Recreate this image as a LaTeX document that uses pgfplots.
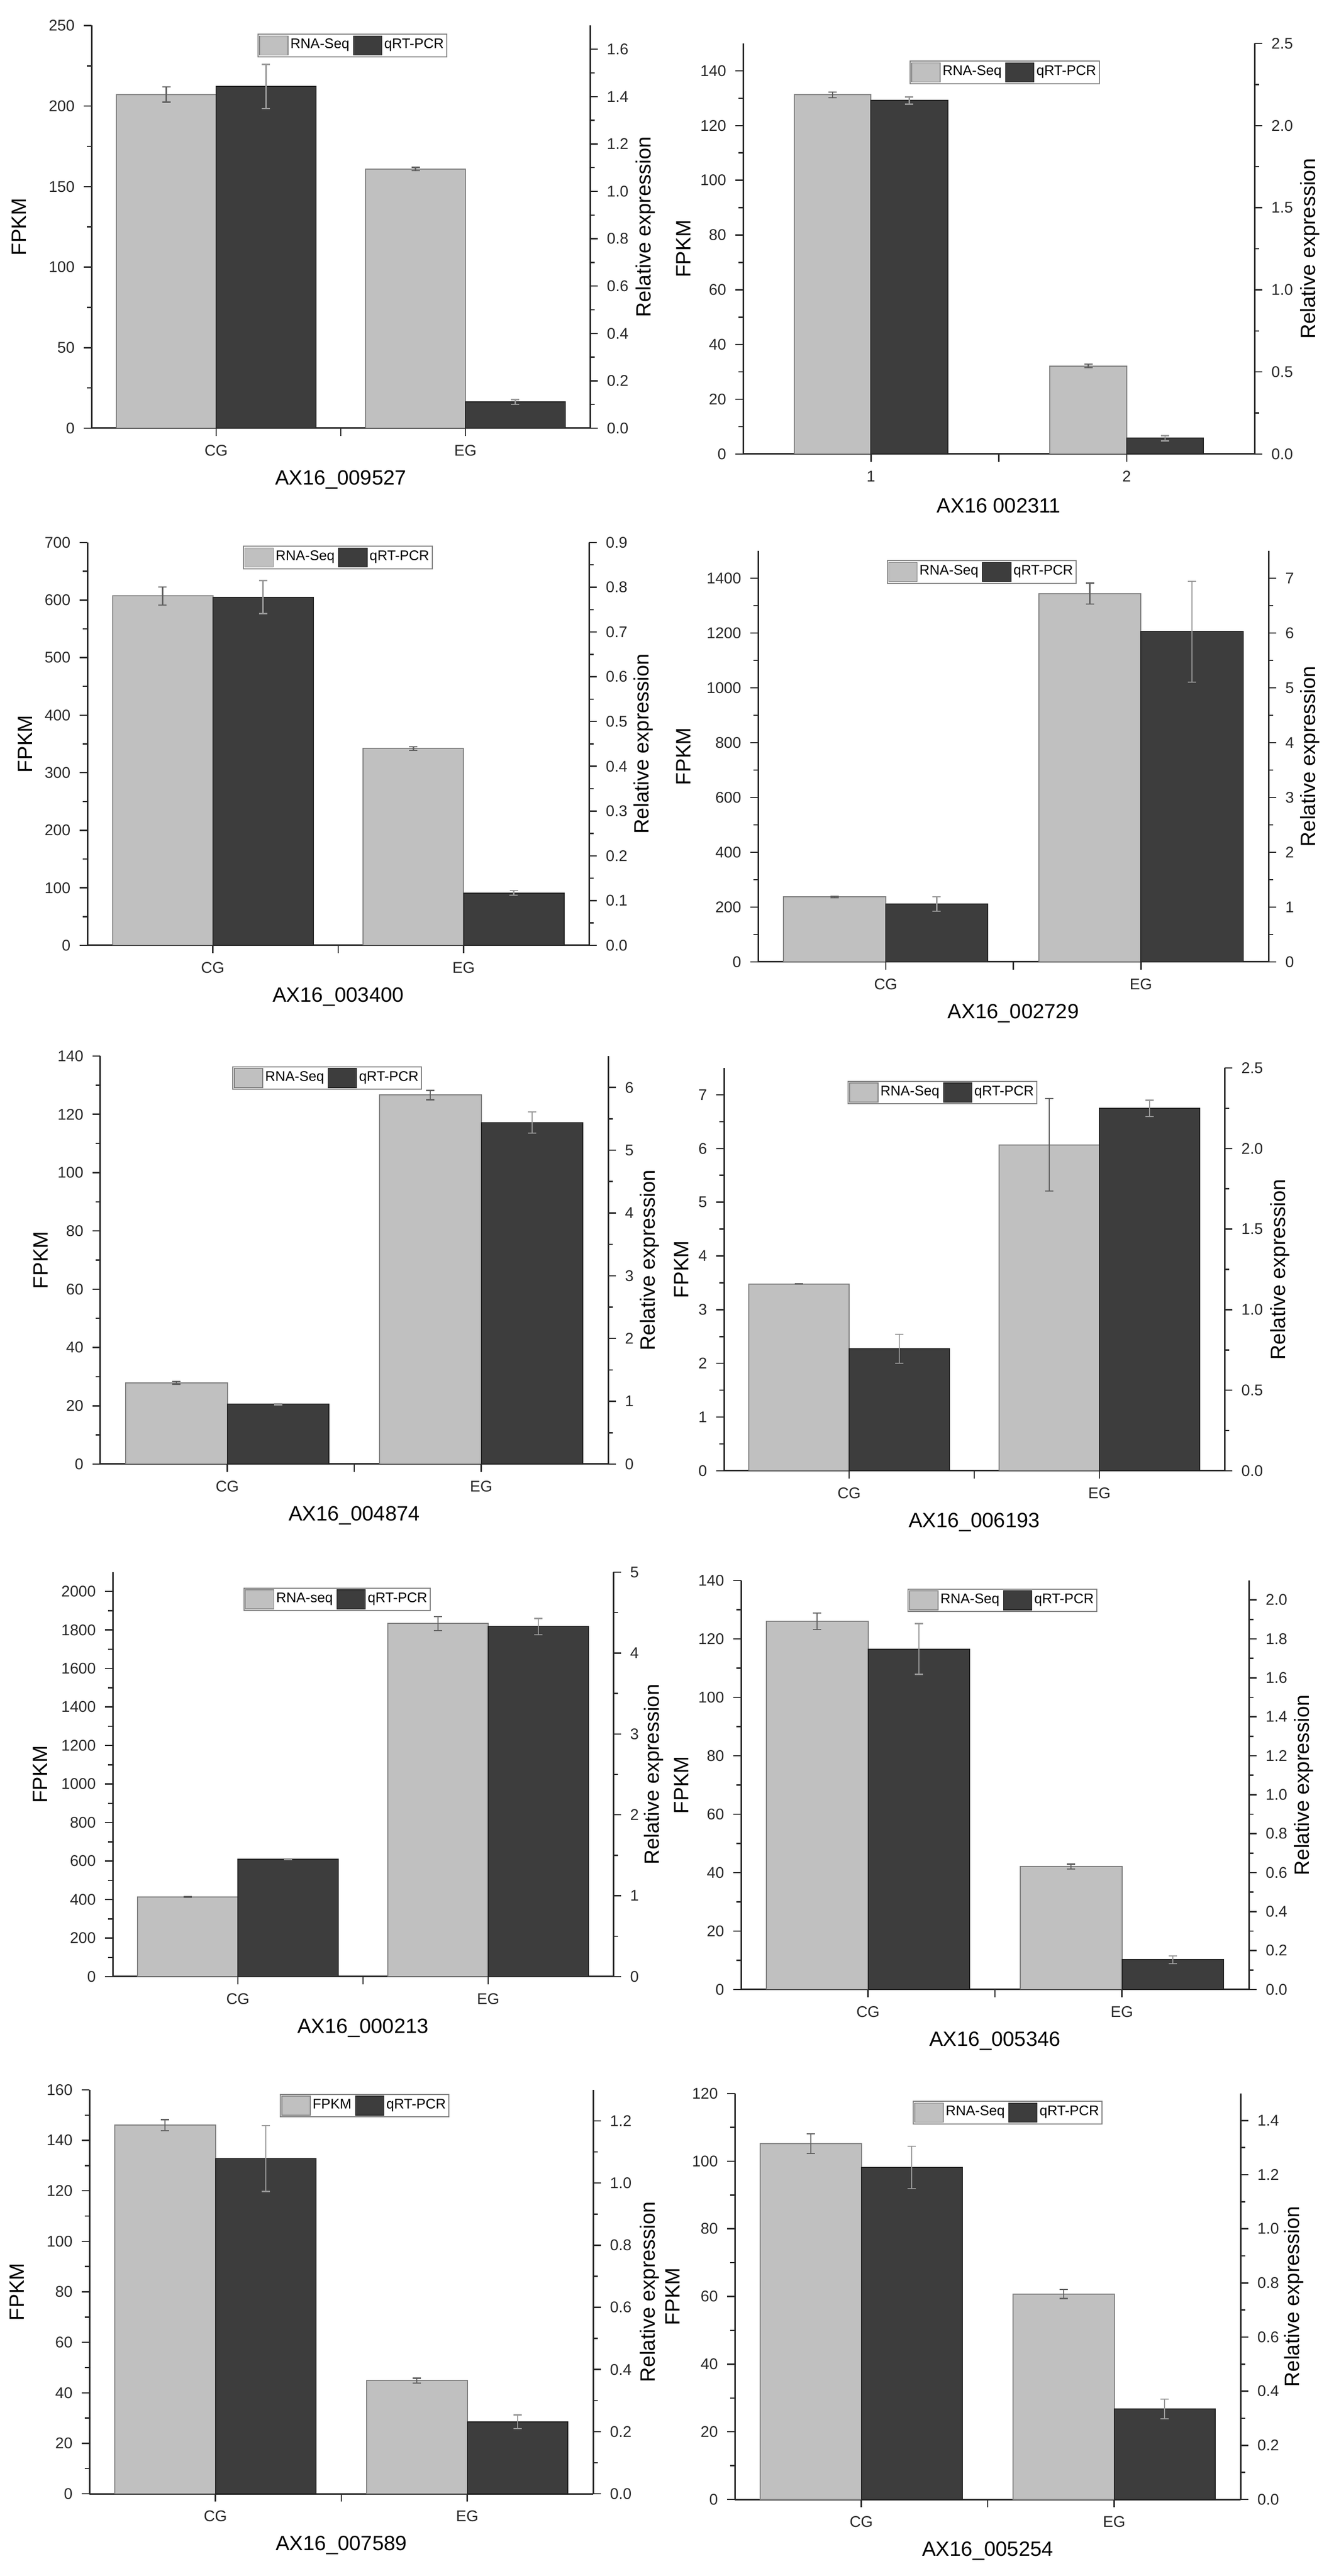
\documentclass[border=0pt]{standalone}
\usepackage{fontspec}
\setmainfont{Liberation Sans}
\usepackage{pgfplots}
\pgfplotsset{compat=1.18}
\definecolor{lgray}{RGB}{192,192,192}
\definecolor{lgedge}{RGB}{125,125,125}
\definecolor{dgray}{RGB}{61,61,61}
\definecolor{dgedge}{RGB}{35,35,35}
\definecolor{axcol}{RGB}{40,40,40}
\pgfplotsset{
  base/.style={
    scale only axis, xmin=0.5, xmax=2.5, ymin=0,
    axis line style={line width=0.6pt, axcol},
    every tick/.style={axcol, line width=0.5pt},
    major tick length=3pt, minor tick length=1.8pt,
    tick align=outside,
    tick label style={font=\fontsize{6}{7}\selectfont, text=axcol},
    label style={font=\fontsize{8}{9.6}\selectfont},
    /pgf/number format/assume math mode=true,
    /pgf/number format/1000 sep={},
    scaled y ticks=false,
    minor y tick num=1,
  },
  pos/.style n args={4}{at={(#1pt,#2pt)}, width=#3pt, height=#4pt},
  leftax/.style={base,
    axis y line*=left, axis x line*=bottom,
    xtick={1,2}, xticklabels={CG,EG}, extra x ticks={1.5}, extra x tick labels={},
    ylabel=FPKM,
  },
  rightax/.style={base,
    axis y line*=right, axis x line=none, xtick=\empty,
    ylabel=Relative expression,
    legend columns=2,
    legend cell align=left,
    legend style={anchor=north west, draw=gray, line width=0.4pt, fill=white,
      font=\fontsize{5.4}{6}\selectfont, inner xsep=0.4pt, inner ysep=0.5pt,
      nodes={inner sep=0.8pt},
      /tikz/every even column/.append style={column sep=0.6pt}},
  },
  flab/.style={ylabel style={at={([xshift=-#1pt]axis description cs:0,0.5)}, anchor=center}},
  rlab/.style={ylabel style={at={([xshift=#1pt]axis description cs:1,0.5)}, anchor=center}},
  xlab/.style={xlabel={#1}, xlabel style={at={([yshift=-20pt]axis description cs:0.5,0)}, anchor=center}},
  dec/.style={yticklabel style={/pgf/number format/fixed, /pgf/number format/fixed zerofill, /pgf/number format/precision=1}},
  lleg/.style={legend image code/.code={\draw[fill=lgray, draw=gray, line width=0.3pt] (0pt,-3.7pt) rectangle (11pt,3.7pt);}},
  dleg/.style={legend image code/.code={\draw[fill=dgray, draw=dgedge, line width=0.3pt] (0pt,-3.7pt) rectangle (11pt,3.7pt);}},
  lbar/.style={ybar, bar width=#1, bar shift=0, fill=lgray, draw=lgedge, line width=0.4pt, lleg,
    error bars/y dir=both, error bars/y explicit,
    error bars/error bar style={line width=0.45pt, gray!75!black},
    error bars/error mark options={rotate=90, line width=0.45pt, gray!75!black, mark size=1.6pt}},
  dbar/.style={ybar, bar width=#1, bar shift=0, fill=dgray, draw=dgedge, line width=0.4pt, dleg,
    error bars/y dir=both, error bars/y explicit,
    error bars/error bar style={line width=0.45pt, gray!80},
    error bars/error mark options={rotate=90, line width=0.45pt, gray!80, mark size=1.6pt}},
}
\begin{document}
\begin{tikzpicture}
\path[use as bounding box] (0,0) rectangle (514pt,996.2pt);

% ---------- Panel 1: AX16_009527  (bars centred at CG=1, EG=2; RNA-Seq left, qRT-PCR right)
\begin{axis}[leftax, pos={35.4}{830.6}{192.8}{155.7}, ymax=250, ytick={0,50,100,150,200,250}, flab=28, xlab={AX16\_009527}]
\addplot[lbar=0.4] coordinates {(0.8,207.2) +- (0,4.7) (1.8,161.0) +- (0,1.0)};
\end{axis}
\begin{axis}[rightax, pos={35.4}{830.6}{192.8}{155.7}, ymax=1.7, ytick={0,0.2,0.4,0.6,0.8,1.0,1.2,1.4,1.6}, dec, rlab=21.4, legend style={at={(0.333,0.980)}}]
\addlegendimage{lleg}\addlegendentry{RNA-Seq}
\addplot[dbar=0.4] coordinates {(1.2,1.443) +- (0,0.093) (2.2,0.111) +- (0,0.010)};
\addlegendentry{qRT-PCR}
\end{axis}

% ---------- Panel 2: AX16 002311
\begin{axis}[leftax, pos={287.4}{820.6}{197.8}{158.8}, ymax=150, ytick={0,20,40,60,80,100,120,140}, xticklabels={1,2}, flab=23, xlab={AX16 002311}]
\addplot[lbar=0.3] coordinates {(0.85,131.2) +- (0,1.0) (1.85,32.2) +- (0,0.7)};
\end{axis}
\begin{axis}[rightax, pos={287.4}{820.6}{197.8}{158.8}, ymax=2.5, ytick={0,0.5,1.0,1.5,2.0,2.5}, dec, rlab=21.4, legend style={at={(0.326,0.958)}}]
\addlegendimage{lleg}\addlegendentry{RNA-Seq}
\addplot[dbar=0.3] coordinates {(1.15,2.152) +- (0,0.022) (2.15,0.096) +- (0,0.016)};
\addlegendentry{qRT-PCR}
\end{axis}

% ---------- Panel 3: AX16_003400
\begin{axis}[leftax, pos={33.8}{630.6}{194}{155.8}, ymax=700, ytick={0,100,200,300,400,500,600,700}, flab=24, xlab={AX16\_003400}]
\addplot[lbar=0.4] coordinates {(0.8,607) +- (0,16) (1.8,342) +- (0,3)};
\end{axis}
\begin{axis}[rightax, pos={33.8}{630.6}{194}{155.8}, ymax=0.9, ytick={0,0.1,0.2,0.3,0.4,0.5,0.6,0.7,0.8,0.9}, dec, rlab=21, legend style={at={(0.310,0.992)}}]
\addlegendimage{lleg}\addlegendentry{RNA-Seq}
\addplot[dbar=0.4] coordinates {(1.2,0.778) +- (0,0.037) (2.2,0.117) +- (0,0.005)};
\addlegendentry{qRT-PCR}
\end{axis}

% ---------- Panel 4: AX16_002729
\begin{axis}[leftax, pos={293.2}{624.2}{197.4}{159}, ymax=1500, ytick={0,200,400,600,800,1000,1200,1400}, flab=28.8, xlab={AX16\_002729}]
\addplot[lbar=0.4] coordinates {(0.8,237) +- (0,3) (1.8,1344) +- (0,38)};
\end{axis}
\begin{axis}[rightax, pos={293.2}{624.2}{197.4}{159}, ymax=7.5, ytick={0,1,2,3,4,5,6,7}, rlab=16, legend style={at={(0.252,0.977)}}]
\addlegendimage{lleg}\addlegendentry{RNA-Seq}
\addplot[dbar=0.4] coordinates {(1.2,1.057) +- (0,0.13) (2.2,6.026) +- (0,0.92)};
\addlegendentry{qRT-PCR}
\end{axis}

% ---------- Panel 5: AX16_004874
\begin{axis}[leftax, pos={38.8}{430}{196.4}{157.8}, ymax=140, ytick={0,20,40,60,80,100,120,140}, flab=23, xlab={AX16\_004874}]
\addplot[lbar=0.4] coordinates {(0.8,27.9) +- (0,0.5) (1.8,126.6) +- (0,1.6)};
\end{axis}
\begin{axis}[rightax, pos={38.8}{430}{196.4}{157.8}, ymax=6.5, ytick={0,1,2,3,4,5,6}, rlab=16, legend style={at={(0.260,0.975)}}]
\addlegendimage{lleg}\addlegendentry{RNA-Seq}
\addplot[dbar=0.4] coordinates {(1.2,0.954) +- (0,0.01) (2.2,5.44) +- (0,0.17)};
\addlegendentry{qRT-PCR}
\end{axis}

% ---------- Panel 6: AX16_006193
\begin{axis}[leftax, pos={280}{427.4}{193.6}{155.8}, ymax=7.5, ytick={0,1,2,3,4,5,6,7}, flab=16.4, xlab={AX16\_006193}]
\addplot[lbar=0.4] coordinates {(0.8,3.48) +- (0,0) (1.8,6.07) +- (0,0.86)};
\end{axis}
\begin{axis}[rightax, pos={280}{427.4}{193.6}{155.8}, ymax=2.5, ytick={0,0.5,1.0,1.5,2.0,2.5}, dec, rlab=21.4, legend style={at={(0.247,0.968)}}]
\addlegendimage{lleg}\addlegendentry{RNA-Seq}
\addplot[dbar=0.4] coordinates {(1.2,0.757) +- (0,0.09) (2.2,2.249) +- (0,0.05)};
\addlegendentry{qRT-PCR}
\end{axis}

% ---------- Panel 7: AX16_000213
\begin{axis}[leftax, pos={43.6}{231.8}{193.6}{156.4}, ymax=2100, ytick={0,200,400,600,800,1000,1200,1400,1600,1800,2000}, flab=28, xlab={AX16\_000213}]
\addplot[lbar=0.4] coordinates {(0.8,414) +- (0,3) (1.8,1833) +- (0,37)};
\end{axis}
\begin{axis}[rightax, pos={43.6}{231.8}{193.6}{156.4}, ymax=5, ytick={0,1,2,3,4,5}, rlab=15.6, legend style={at={(0.261,0.962)}}]
\addlegendimage{lleg}\addlegendentry{RNA-seq}
\addplot[dbar=0.4] coordinates {(1.2,1.449) +- (0,0.005) (2.2,4.327) +- (0,0.10)};
\addlegendentry{qRT-PCR}
\end{axis}

% ---------- Panel 8: AX16_005346
\begin{axis}[leftax, pos={286.6}{226.8}{196.4}{158.2}, ymax=140, ytick={0,20,40,60,80,100,120,140}, flab=23, xlab={AX16\_005346}]
\addplot[lbar=0.4] coordinates {(0.8,126.0) +- (0,2.8) (1.8,42.1) +- (0,0.8)};
\end{axis}
\begin{axis}[rightax, pos={286.6}{226.8}{196.4}{158.2}, ymax=2.1, ytick={0,0.2,0.4,0.6,0.8,1.0,1.2,1.4,1.6,1.8,2.0}, dec, rlab=21.2, legend style={at={(0.328,0.980)}}]
\addlegendimage{lleg}\addlegendentry{RNA-Seq}
\addplot[dbar=0.4] coordinates {(1.2,1.748) +- (0,0.13) (2.2,0.153) +- (0,0.02)};
\addlegendentry{qRT-PCR}
\end{axis}

% ---------- Panel 9: AX16_007589
\begin{axis}[leftax, pos={34.6}{31.8}{194.8}{156.2}, ymax=160, ytick={0,20,40,60,80,100,120,140,160}, flab=28, xlab={AX16\_007589}]
\addplot[lbar=0.4] coordinates {(0.8,146.0) +- (0,2.2) (1.8,44.8) +- (0,1.0)};
\end{axis}
\begin{axis}[rightax, pos={34.6}{31.8}{194.8}{156.2}, ymax=1.3, ytick={0,0.2,0.4,0.6,0.8,1.0,1.2}, dec, rlab=21.8, legend style={at={(0.378,0.990)}}]
\addlegendimage{lleg}\addlegendentry{FPKM}
\addplot[dbar=0.4] coordinates {(1.2,1.079) +- (0,0.106) (2.2,0.232) +- (0,0.022)};
\addlegendentry{qRT-PCR}
\end{axis}

% ---------- Panel 10: AX16_005254
\begin{axis}[leftax, pos={284.2}{29.6}{195.6}{157}, ymax=120, ytick={0,20,40,60,80,100,120}, flab=24, xlab={AX16\_005254}]
\addplot[lbar=0.4] coordinates {(0.8,105.2) +- (0,2.9) (1.8,60.75) +- (0,1.35)};
\end{axis}
\begin{axis}[rightax, pos={284.2}{29.6}{195.6}{157}, ymax=1.5, ytick={0,0.2,0.4,0.6,0.8,1.0,1.2,1.4}, dec, rlab=20.6, legend style={at={(0.352,0.982)}}]
\addlegendimage{lleg}\addlegendentry{RNA-Seq}
\addplot[dbar=0.4] coordinates {(1.2,1.227) +- (0,0.078) (2.2,0.3345) +- (0,0.036)};
\addlegendentry{qRT-PCR}
\end{axis}
\end{tikzpicture}
\end{document}
